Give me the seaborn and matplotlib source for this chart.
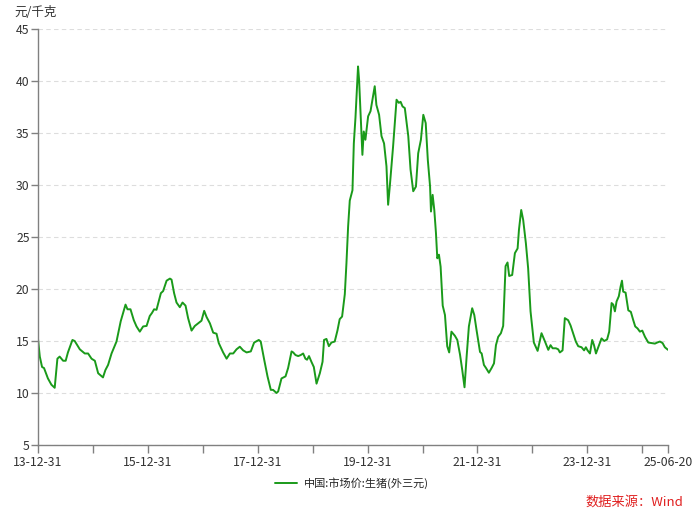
import pandas as pd
import matplotlib
matplotlib.use("Agg")
from matplotlib import pyplot as plt
import matplotlib.dates as mdates
import seaborn as sns

# weekly hog price (thinned)
dates = [
    "2013-12-31", "2014-01-12", "2014-01-27", "2014-02-09", "2014-03-07", "2014-03-30",
    "2014-04-21", "2014-05-09", "2014-05-24", "2014-06-16", "2014-07-03", "2014-07-18",
    "2014-08-17", "2014-09-01", "2014-10-05", "2014-11-07", "2014-11-29", "2014-12-22",
    "2015-01-13", "2015-02-04", "2015-03-08", "2015-03-24", "2015-04-11", "2015-05-04",
    "2015-06-06", "2015-07-04", "2015-07-20", "2015-08-05", "2015-08-18", "2015-09-07",
    "2015-09-29", "2015-10-17", "2015-11-08", "2015-11-30", "2015-12-23", "2016-01-13",
    "2016-01-28", "2016-02-11", "2016-02-27", "2016-03-27", "2016-04-11", "2016-05-04",
    "2016-05-26", "2016-06-06", "2016-06-23", "2016-07-09", "2016-07-31", "2016-08-18",
    "2016-09-07", "2016-09-24", "2016-10-17", "2016-11-08", "2016-11-30", "2016-12-22",
    "2017-01-09", "2017-01-25", "2017-02-16", "2017-03-10", "2017-04-01", "2017-04-16",
    "2017-05-15", "2017-06-07", "2017-06-29", "2017-07-21", "2017-08-12", "2017-09-03",
    "2017-09-25", "2017-10-18", "2017-11-15", "2017-12-07", "2018-01-07", "2018-01-20",
    "2018-02-12", "2018-03-06", "2018-03-28", "2018-04-12", "2018-05-05", "2018-05-16",
    "2018-06-07", "2018-07-04", "2018-07-21", "2018-08-13", "2018-08-24", "2018-09-08",
    "2018-09-26", "2018-10-13", "2018-10-29", "2018-11-13", "2018-11-24", "2018-12-07",
    "2018-12-23", "2019-01-08", "2019-01-26", "2019-02-17", "2019-03-07", "2019-03-17",
    "2019-04-02", "2019-04-18", "2019-05-05", "2019-05-27", "2019-06-14", "2019-06-29",
    "2019-07-15", "2019-08-02", "2019-08-13", "2019-08-24", "2019-09-04", "2019-09-22",
    "2019-10-01", "2019-10-12", "2019-10-29", "2019-11-05", "2019-11-27", "2019-12-06",
    "2019-12-17", "2020-01-04", "2020-01-20", "2020-02-17", "2020-02-28", "2020-03-17",
    "2020-04-02", "2020-04-19", "2020-05-05", "2020-05-16", "2020-05-27", "2020-06-18",
    "2020-07-11", "2020-07-26", "2020-08-07", "2020-08-20", "2020-09-04", "2020-09-27",
    "2020-10-12", "2020-10-30", "2020-11-17", "2020-12-02", "2020-12-20", "2021-01-05",
    "2021-01-21", "2021-02-04", "2021-02-19", "2021-02-25", "2021-03-08", "2021-03-19",
    "2021-03-30", "2021-04-08", "2021-04-19", "2021-04-30", "2021-05-14", "2021-05-29",
    "2021-06-13", "2021-06-26", "2021-07-11", "2021-08-03", "2021-08-19", "2021-09-06",
    "2021-09-21", "2021-10-06", "2021-10-20", "2021-11-04", "2021-11-26", "2021-12-10",
    "2021-12-25", "2022-01-17", "2022-01-28", "2022-02-12", "2022-02-26", "2022-03-17",
    "2022-04-04", "2022-04-20", "2022-05-03", "2022-05-18", "2022-06-05", "2022-06-20",
    "2022-07-06", "2022-07-19", "2022-07-30", "2022-08-19", "2022-09-06", "2022-09-24",
    "2022-10-03", "2022-10-18", "2022-10-31", "2022-11-18", "2022-12-03", "2022-12-19",
    "2023-01-10", "2023-02-04", "2023-03-02", "2023-03-25", "2023-04-16", "2023-05-01",
    "2023-05-15", "2023-06-06", "2023-06-21", "2023-07-02", "2023-07-20", "2023-08-04",
    "2023-08-26", "2023-09-11", "2023-09-28", "2023-10-16", "2023-11-01", "2023-11-23",
    "2023-12-10", "2023-12-22", "2024-01-02", "2024-01-18", "2024-02-02", "2024-02-14",
    "2024-02-27", "2024-03-13", "2024-04-04", "2024-04-22", "2024-05-11", "2024-05-25",
    "2024-06-10", "2024-06-21", "2024-07-02", "2024-07-13", "2024-07-28", "2024-08-09",
    "2024-08-18", "2024-08-26", "2024-09-11", "2024-09-29", "2024-10-16", "2024-11-01",
    "2024-11-14", "2024-11-30", "2024-12-15", "2024-12-31", "2025-01-18", "2025-02-09",
    "2025-03-03", "2025-03-25", "2025-04-09", "2025-04-27", "2025-05-15", "2025-05-30",
    "2025-06-20",
]
prices = [
    15.2, 13.5, 12.5, 12.4, 11.4, 10.8,
    10.5, 13.3, 13.5, 13.1, 13.1, 13.9,
    15.1, 15.0, 14.2, 13.8, 13.8, 13.3,
    13.1, 11.9, 11.5, 12.2, 12.7, 13.8,
    14.95, 16.9, 17.7, 18.5, 18.05, 18.05,
    17.0, 16.4, 15.9, 16.4, 16.45, 17.4,
    17.7, 18.05, 18.0, 19.6, 19.8, 20.8,
    21.0, 20.9, 19.6, 18.7, 18.25, 18.7,
    18.4, 17.2, 16.0, 16.45, 16.7, 16.95,
    17.9, 17.3, 16.7, 15.8, 15.7, 14.8,
    13.9, 13.3, 13.8, 13.8, 14.2, 14.45,
    14.1, 13.9, 14.0, 14.85, 15.1, 14.95,
    13.2, 11.6, 10.3, 10.3, 10.0, 10.15,
    11.4, 11.6, 12.4, 14.0, 13.9, 13.65,
    13.55, 13.65, 13.8, 13.3, 13.2, 13.55,
    13.0, 12.5, 10.9, 11.9, 13.0, 15.1,
    15.2, 14.5, 14.85, 14.95, 16.0, 17.1,
    17.35, 19.5, 22.5, 26.0, 28.5, 29.5,
    34.0, 36.5, 41.4, 40.1, 32.9, 35.15,
    34.35, 36.6, 37.1, 39.5, 37.7, 36.75,
    34.7, 34.0, 31.8, 28.1, 29.85, 33.7,
    38.2, 37.9, 38.0, 37.55, 37.4, 34.7,
    31.5, 29.4, 29.85, 33.05, 34.35, 36.75,
    35.95, 32.4, 29.85, 27.45, 29.05, 27.6,
    25.4, 22.95, 23.3, 22.15, 18.4, 17.5,
    14.5, 13.9, 15.9, 15.5, 15.1, 13.7,
    12.2, 10.55, 13.5, 16.4, 18.15, 17.5,
    16.05, 13.95, 13.8, 12.7, 12.4, 11.95,
    12.4, 12.85, 14.6, 15.4, 15.75, 16.45,
    22.2, 22.55, 21.25, 21.35, 23.45, 23.9,
    25.7, 27.6, 26.65, 24.4, 22.0, 17.85,
    14.85, 14.05, 15.75, 14.95, 14.15, 14.6,
    14.3, 14.3, 14.2, 13.9, 14.1, 17.2,
    17.0, 16.5, 15.75, 14.95, 14.5, 14.4,
    14.1, 14.4, 14.1, 13.8, 15.1, 14.6,
    13.8, 14.4, 15.25, 15.0, 15.15, 15.9,
    18.65, 18.5, 17.85, 18.8, 19.3, 20.25,
    20.8, 19.75, 19.65, 17.95, 17.8, 17.0,
    16.4, 16.2, 15.9, 16.0, 15.4, 14.85,
    14.8, 14.75, 14.85, 14.95, 14.8, 14.4,
    14.15,
]
series_name = "中国:市场价:生猪(外三元)"
label_dates = ["2013-12-31", "2015-12-31", "2017-12-31", "2019-12-31",
               "2021-12-31", "2023-12-31", "2025-06-20"]
minor_dates = ["2014-12-31", "2016-12-31", "2018-12-31", "2020-12-31",
               "2022-12-31", "2024-12-31"]
y_ticks = [5, 10, 15, 20, 25, 30, 35, 40, 45]

df = pd.DataFrame({"date": pd.to_datetime(dates), "price": prices})

sns.set_theme(style="white")
plt.rcParams["font.family"] = ["Noto Sans CJK SC", "DejaVu Sans"]

fig = plt.figure(figsize=(7, 5.13), dpi=100)
ax = fig.add_axes([38 / 700, 68 / 513, 630 / 700, 416 / 513])

sns.lineplot(data=df, x="date", y="price", ax=ax, color="#1a9a1a",
             linewidth=1.4, label=series_name)

ax.set_xlim(pd.Timestamp(dates[0]), pd.Timestamp(dates[-1]))
ax.set_ylim(5, 45)
ax.set_yticks(y_ticks)
ax.set_xticks(pd.to_datetime(label_dates))
ax.set_xticks(pd.to_datetime(minor_dates), minor=True)
ax.xaxis.set_major_formatter(mdates.DateFormatter("%y-%m-%d"))
ax.set_xlabel("")
ax.set_ylabel("")

ax.grid(axis="y", color="#dddddd", linestyle=(0, (4, 3)), linewidth=0.8)
for s in ["top", "right"]:
    ax.spines[s].set_visible(False)
for s in ["left", "bottom"]:
    ax.spines[s].set_color("#808080")
    ax.spines[s].set_linewidth(1.0)

ax.tick_params(axis="both", which="both", direction="out", color="#808080",
               labelcolor="#333333", labelsize=8.8)
ax.tick_params(axis="x", which="both", length=6, width=1, pad=2, bottom=True)
ax.tick_params(axis="y", length=5, width=1, pad=1, left=True)

ax.legend(loc="center", bbox_to_anchor=(352 / 700, 1 - 483 / 513),
          bbox_transform=fig.transFigure, frameon=False, fontsize=8,
          handlelength=2.0, handletextpad=0.6)

fig.text(14 / 700, 1 - 12 / 513, "元/千克", fontsize=9, color="#333333",
         va="center", ha="left")
fig.text(683 / 700, 1 - 502 / 513, "数据来源：Wind", fontsize=9.5,
         color="#e02020", va="center", ha="right")

fig.savefig("out.png", dpi=100)
